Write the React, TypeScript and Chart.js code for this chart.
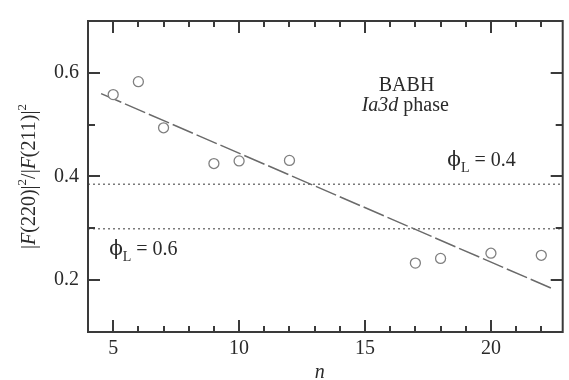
import React, { useEffect, useRef } from 'react';
import { Chart, registerables } from 'chart.js';

Chart.register(...registerables);

const nValues = [5, 6, 7, 9, 10, 12, 17, 18, 20, 22];
const ratioValues = [0.558, 0.583, 0.494, 0.425, 0.43, 0.431, 0.233, 0.242, 0.252, 0.248];
const fitN = [4.52, 22.47];
const fitRatio = [0.56, 0.183];
const phi04Level = 0.385;
const phi06Level = 0.299;
const xRange = [4, 22.85];
const yRange = [0.1, 0.7];
const xTickLabels = [5, 10, 15, 20];
const yTickLabels = [0.2, 0.4, 0.6];
const xTickMarks = [5, 6, 7, 8, 9, 10, 11, 12, 13, 14, 15, 16, 17, 18, 19, 20, 21, 22];
const yTickMarks = [0.2, 0.3, 0.4, 0.5, 0.6];

const SERIF = "'Liberation Serif', 'Times New Roman', serif";
const INK = '#2a2a2a';

const decorPlugin = {
  id: 'decor',
  afterDatasetsDraw(chart: any) {
    const ctx = chart.ctx as CanvasRenderingContext2D;
    const { left, right, top, bottom } = chart.chartArea;
    const xs = chart.scales.x;
    const ys = chart.scales.y;
    ctx.save();
    // frame
    ctx.strokeStyle = '#3a3a3a';
    ctx.lineWidth = 2;
    ctx.strokeRect(left, top, right - left, bottom - top);
    // inward ticks
    ctx.lineWidth = 2;
    ctx.beginPath();
    xTickMarks.forEach((v) => {
      const px = Math.round(xs.getPixelForValue(v));
      const len = xTickLabels.includes(v) ? 12 : 6;
      ctx.moveTo(px, bottom);
      ctx.lineTo(px, bottom - len);
      ctx.moveTo(px, top);
      ctx.lineTo(px, top + len);
    });
    yTickMarks.forEach((v) => {
      const py = Math.round(ys.getPixelForValue(v));
      const major = yTickLabels.some((t) => Math.abs(t - v) < 1e-6);
      const len = major ? 12 : 7;
      ctx.moveTo(left, py);
      ctx.lineTo(left + len, py);
      ctx.moveTo(right, py);
      ctx.lineTo(right - len, py);
    });
    ctx.stroke();

    ctx.fillStyle = INK;
    ctx.textBaseline = 'middle';
    // BABH
    ctx.font = `20px ${SERIF}`;
    ctx.textAlign = 'center';
    ctx.fillText('BABH', xs.getPixelForValue(16.65), ys.getPixelForValue(0.576));
    // Ia3d phase
    {
      const cy = ys.getPixelForValue(0.537);
      const cx = xs.getPixelForValue(16.6);
      ctx.textAlign = 'left';
      ctx.font = `italic 20px ${SERIF}`;
      const w1 = ctx.measureText('Ia3d').width;
      ctx.font = `20px ${SERIF}`;
      const w2 = ctx.measureText(' phase').width;
      const x0 = cx - (w1 + w2) / 2;
      ctx.font = `italic 20px ${SERIF}`;
      ctx.fillText('Ia3d', x0, cy);
      ctx.font = `20px ${SERIF}`;
      ctx.fillText(' phase', x0 + w1, cy);
    }
    const drawPhi = (nx: number, vy: number, value: string) => {
      let x = xs.getPixelForValue(nx);
      const y = ys.getPixelForValue(vy);
      ctx.textAlign = 'left';
      ctx.font = `20px 'DejaVu Serif', ${SERIF}`;
      ctx.fillText('\u03D5', x, y);
      x += ctx.measureText('\u03D5').width;
      ctx.font = `14px ${SERIF}`;
      ctx.fillText('L', x, y + 8);
      x += ctx.measureText('L').width;
      ctx.font = `20px ${SERIF}`;
      ctx.fillText(' = ' + value, x, y);
    };
    drawPhi(18.27, 0.431, '0.4');
    drawPhi(4.84, 0.259, '0.6');

    // x title
    ctx.font = `italic 20px ${SERIF}`;
    ctx.textAlign = 'center';
    ctx.fillText('n', xs.getPixelForValue(13.2), 373);

    // y title (rotated)
    {
      const parts: [string, string, number][] = [
        ['|', `20px ${SERIF}`, 0],
        ['F', `italic 20px ${SERIF}`, 0],
        ['(220)|', `20px ${SERIF}`, 0],
        ['2', `13px ${SERIF}`, -7],
        ['/|', `20px ${SERIF}`, 0],
        ['F', `italic 20px ${SERIF}`, 0],
        ['(211)|', `20px ${SERIF}`, 0],
        ['2', `13px ${SERIF}`, -7],
      ];
      let total = 0;
      const widths = parts.map(([t, f]) => {
        ctx.font = f;
        const w = ctx.measureText(t).width;
        total += w;
        return w;
      });
      ctx.translate(30, (top + bottom) / 2);
      ctx.rotate(-Math.PI / 2);
      let x = -total / 2;
      ctx.textAlign = 'left';
      parts.forEach(([t, f, dy], i) => {
        ctx.font = f;
        ctx.fillText(t, x, dy);
        x += widths[i];
      });
    }
    ctx.restore();
  },
};

export default function App() {
  const ref = useRef<HTMLCanvasElement | null>(null);
  useEffect(() => {
    document.body.style.margin = '0';
    if (!ref.current) return;
    const chart = new Chart(ref.current, {
      type: 'scatter',
      data: {
        datasets: [
          {
            data: nValues.map((n, i) => ({ x: n, y: ratioValues[i] })),
            pointRadius: 5,
            pointBorderColor: '#808080',
            pointBackgroundColor: '#ffffff',
            pointBorderWidth: 1.3,
            showLine: false,
            order: 0,
          },
          {
            data: fitN.map((n, i) => ({ x: n, y: fitRatio[i] })),
            showLine: true,
            borderColor: '#6a6a6a',
            borderWidth: 1.5,
            borderDash: [22, 4],
            pointRadius: 0,
            order: 1,
          },
          {
            data: xRange.map((n) => ({ x: n, y: phi04Level })),
            showLine: true,
            borderColor: '#7a7a7a',
            borderWidth: 1.5,
            borderDash: [2, 3],
            pointRadius: 0,
            order: 2,
          },
          {
            data: xRange.map((n) => ({ x: n, y: phi06Level })),
            showLine: true,
            borderColor: '#7a7a7a',
            borderWidth: 1.5,
            borderDash: [2, 3],
            pointRadius: 0,
            order: 2,
          },
        ],
      },
      options: {
        animation: false,
        responsive: false,
        layout: { padding: { top: 12, right: 1, left: 0, bottom: 0 } },
        plugins: { legend: { display: false }, tooltip: { enabled: false } },
        scales: {
          x: {
            type: 'linear',
            min: xRange[0],
            max: xRange[1],
            afterFit: (s: any) => {
              s.height = 48;
            },
            afterBuildTicks: (s: any) => {
              s.ticks = xTickLabels.map((v) => ({ value: v }));
            },
            ticks: {
              autoSkip: false,
              maxRotation: 0,
              padding: 5,
              color: INK,
              font: { family: SERIF, size: 20 },
              callback: (v: any) => String(v),
            },
            grid: { display: false, drawTicks: false },
            border: { display: false },
          },
          y: {
            type: 'linear',
            min: yRange[0],
            max: yRange[1],
            afterFit: (s: any) => {
              s.width = 88;
            },
            afterBuildTicks: (s: any) => {
              s.ticks = yTickLabels.map((v) => ({ value: v }));
            },
            ticks: {
              autoSkip: false,
              padding: 9,
              color: INK,
              font: { family: SERIF, size: 20 },
              callback: (v: any) => Number(v).toFixed(1),
            },
            grid: { display: false, drawTicks: false },
            border: { display: false },
          },
        },
      },
      plugins: [decorPlugin],
    });
    return () => chart.destroy();
  }, []);
  return (
    <div style={{ position: 'absolute', left: 0, top: 0, width: 569, height: 380, background: '#fff' }}>
      <canvas ref={ref} width={569} height={380} style={{ width: 569, height: 380 }} />
    </div>
  );
}
